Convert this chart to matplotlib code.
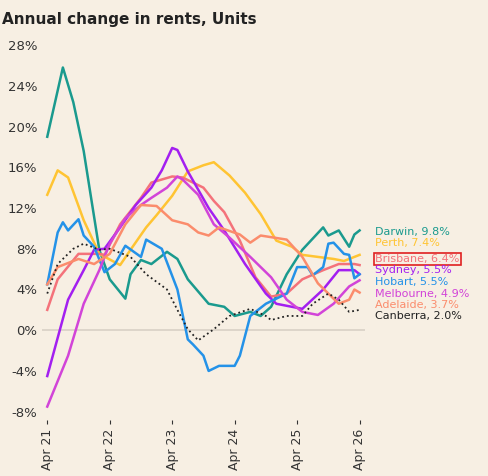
import matplotlib
matplotlib.use("Agg")
import matplotlib.pyplot as plt

darwin_m = [0,3,5,7,10,12,15,16,18,20,23,25,27,31,34,36,39,41,43,46,49,53,54,56,58,59,60]
darwin_v = [19,25.8,22.4,17.6,7.9,5,3.1,5.5,6.9,6.5,7.7,7,5,2.6,2.3,1.4,1.8,1.4,2.3,5.5,7.9,10.1,9.3,9.8,8.2,9.4,9.8]
perth_m = [0,2,4,7,10,14,16,19,21,24,27,30,32,35,38,41,44,47,49,55,57,60]
perth_v = [13.3,15.7,15,10.8,7.5,6.4,7.9,10.1,11.3,13.2,15.6,16.2,16.5,15.2,13.5,11.4,8.8,8.2,7.4,7.0,6.8,7.4]
brisbane_m = [0,2,6,10,11,14,18,20,24,26,30,32,34,37,40,43,46,49,53,56,59,60]
brisbane_v = [2,5,7.5,7.5,7.4,10.4,13,14.5,15.1,15,14,12.7,11.6,8.8,5.2,3.3,3.6,5,5.9,6.5,6.5,6.4]
sydney_m = [0,4,7,9,11,14,17,20,22,24,25,27,31,34,38,42,44,49,53,56,59,60]
sydney_v = [-4.5,3,5.9,7.9,8,10.1,12.3,14,15.7,17.9,17.7,15.6,12,9.8,6.5,3.6,2.6,2.1,4,5.9,5.9,5.5]
hobart_m = [0,2,3,4,6,7,9,11,13,15,18,19,22,25,27,28,30,31,33,36,37,39,42,46,48,50,51,53,54,55,57,58,59,60]
hobart_v = [4.5,9.6,10.6,9.8,10.9,9.3,8.2,5.7,6.5,8.3,7.2,8.9,8,4,-0.9,-1.4,-2.5,-4,-3.5,-3.5,-2.5,1.4,2.6,3.6,6.2,6.2,5.4,6.2,8.5,8.6,7.5,7.4,5.1,5.5]
melbourne_m = [0,4,7,10,12,15,18,20,23,25,26,29,32,35,39,43,46,49,52,55,58,60]
melbourne_v = [-7.5,-2.5,2.6,5.9,8.5,11,12.3,13,14,15.1,14.8,13.3,10.4,9.1,7.2,5.2,3,1.8,1.5,2.6,4.3,4.9]
adelaide_m = [0,2,6,9,12,15,18,21,24,27,29,31,33,37,39,41,46,49,52,56,58,59,60]
adelaide_v = [4.5,6.2,7,6.5,7.5,10.4,12.3,12.2,10.8,10.4,9.6,9.3,10.1,9.4,8.6,9.3,8.9,7.2,4.6,2.6,3,4,3.7]
canberra_m = [0,2,5,7,10,12,16,19,23,25,27,29,32,35,39,42,43,46,49,51,54,56,58,60]
canberra_v = [3.6,6.5,8,8.5,7.9,8,7.2,5.5,4,2,0.1,-1,0.1,1.4,2.1,1.4,1,1.4,1.4,2.6,3.6,3,1.8,2.0]

labels = ["Darwin, 9.8%","Perth, 7.4%","Brisbane, 6.4%","Sydney, 5.5%","Hobart, 5.5%","Melbourne, 4.9%","Adelaide, 3.7%","Canberra, 2.0%"]
xtick_labels = ["Apr 21","Apr 22","Apr 23","Apr 24","Apr 25","Apr 26"]
yticks = [-8,-4,0,4,8,12,16,20,24,28]

bg = "#f7efe3"
series = [
    (darwin_m, darwin_v, "#1a9a8e", "-"),
    (perth_m, perth_v, "#ffc433", "-"),
    (brisbane_m, brisbane_v, "#f4727a", "-"),
    (sydney_m, sydney_v, "#a31ff0", "-"),
    (hobart_m, hobart_v, "#2492e8", "-"),
    (melbourne_m, melbourne_v, "#d244d8", "-"),
    (adelaide_m, adelaide_v, "#fb8c6c", "-"),
    (canberra_m, canberra_v, "#222222", ":"),
]
label_y = [9.6, 8.6, 7.0, 5.9, 4.7, 3.6, 2.5, 1.35]

fig = plt.figure(figsize=(4.89,4.76), dpi=100, facecolor=bg)
ax = fig.add_axes([0.086,0.118,0.66,0.83], facecolor=bg)
ax.axhline(0, color="#d8d0c6", lw=1.2, zorder=1)
for (m,v,c,ls) in series:
    ax.plot(m, v, color=c, ls=ls, lw=1.8 if ls=="-" else 1.3, zorder=3)
for (m,v,c,ls), lab, ly in zip(series, labels, label_y):
    tc = "#222222" if ls==":" else c
    t = ax.text(63, ly, lab, color=tc, fontsize=8, va="center", clip_on=False)
    if lab.startswith("Brisbane"):
        t.set_bbox(dict(facecolor="none", edgecolor="#e02020", lw=1.2, pad=1.0))
ax.set_xlim(-1, 61)
ax.set_ylim(-8.8, 30)
ax.set_yticks(yticks)
ax.set_yticklabels([f"{t}%" for t in yticks])
ax.set_xticks([0,12,24,36,48,60])
ax.set_xticklabels(xtick_labels, rotation=90)
ax.tick_params(axis="y", length=0, labelsize=9.5, colors="#333333")
ax.tick_params(axis="x", length=3, labelsize=9, colors="#333333")
for s in ax.spines.values():
    s.set_visible(False)
fig.text(0.005, 0.975, "Annual change in rents, Units", fontsize=11, fontweight="bold", va="top", color="#222222")
fig.savefig("out.png", dpi=100, facecolor=bg)
